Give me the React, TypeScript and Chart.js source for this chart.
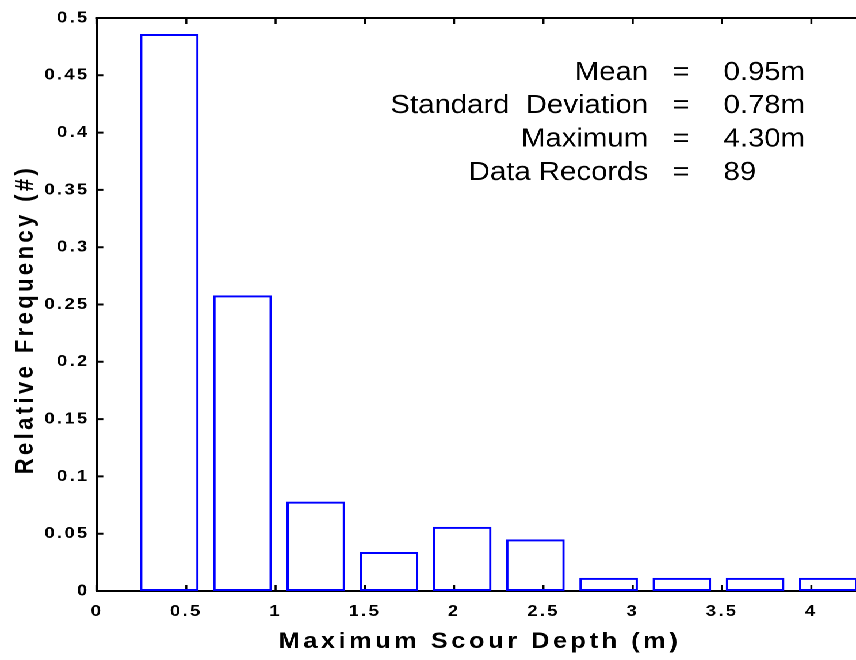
import React, { useEffect, useRef } from 'react';
import { Chart, registerables } from 'chart.js';

Chart.register(...registerables);

// ---- data ----
const binCenters = [0.405, 0.815, 1.225, 1.635, 2.045, 2.455, 2.865, 3.275, 3.685, 4.095];
const relFrequency = [0.486, 0.258, 0.078, 0.034, 0.056, 0.045, 0.0115, 0.0115, 0.0115, 0.0115];
const xTickValues = [0, 0.5, 1, 1.5, 2, 2.5, 3, 3.5, 4];
const xTickLabels = ['0', '0.5', '1', '1.5', '2', '2.5', '3', '3.5', '4'];
const yTickValues = [0, 0.05, 0.1, 0.15, 0.2, 0.25, 0.3, 0.35, 0.4, 0.45, 0.5];
const yTickLabels = ['0', '0.05', '0.1', '0.15', '0.2', '0.25', '0.3', '0.35', '0.4', '0.45', '0.5'];
const statLabels = ['Mean', 'Standard  Deviation', 'Maximum', 'Data Records'];
const statValues = ['0.95m', '0.78m', '4.30m', '89'];
const xTitle = 'Maximum Scour Depth (m)';
const yTitle = 'Relative Frequency (#)';

// ---- layout / style ----
const CANVAS_W = 744;
const CANVAS_H = 660;
const STRETCH = 856 / CANVAS_W;
const FONT = '"Liberation Sans", Arial, Helvetica, sans-serif';
const STAT_LABEL_X = 3.086;
const STAT_EQ_X = 3.27;
const STAT_VALUE_X = 3.508;
const STAT_TOP_Y = 0.446;
const STAT_ROW_STEP = 0.0291;

const textPlugin = {
  id: 'textStyle',
  beforeDraw(chart: any) {
    const ctx = chart.ctx;
    for (const id of ['x', 'y']) {
      const s: any = chart.scales[id];
      if (!s || s.__patched) continue;
      s.__patched = true;
      const origLabels = s.drawLabels;
      s.drawLabels = function (...args: any[]) {
        ctx.save();
        ctx.letterSpacing = '2px';
        origLabels.apply(this, args);
        ctx.restore();
      };
      const origTitle = s.drawTitle;
      s.drawTitle = function (...args: any[]) {
        ctx.save();
        ctx.letterSpacing = id === 'y' ? '3.4px' : '3.1px';
        if (id === 'y') ctx.translate(0, 15);
        else ctx.translate(3, 0);
        origTitle.apply(this, args);
        ctx.restore();
      };
    }
  },
};

const framePlugin = {
  id: 'frame',
  beforeDatasetsDraw(chart: any) {
    const { ctx, chartArea: a, scales } = chart;
    const x = scales.x;
    const y = scales.y;
    ctx.save();
    ctx.strokeStyle = '#000';
    ctx.lineWidth = 2;
    ctx.beginPath();
    ctx.moveTo(a.left - 1, a.top);
    ctx.lineTo(a.right, a.top);
    for (const t of y.ticks) {
      const py = y.getPixelForValue(t.value);
      ctx.moveTo(a.left, py);
      ctx.lineTo(a.left + 5.5, py);
    }
    ctx.stroke();
    ctx.lineWidth = 1.75;
    ctx.beginPath();
    for (const t of x.ticks) {
      const px = x.getPixelForValue(t.value);
      ctx.moveTo(px, a.bottom);
      ctx.lineTo(px, a.bottom - 6);
      ctx.moveTo(px, a.top);
      ctx.lineTo(px, a.top + 6);
    }
    ctx.stroke();
    ctx.restore();
  },
};

const statsPlugin = {
  id: 'stats',
  afterDraw(chart: any) {
    const { ctx, scales } = chart;
    const x = scales.x;
    const y = scales.y;
    ctx.save();
    ctx.font = `25.5px ${FONT}`;
    ctx.fillStyle = '#000';
    ctx.textBaseline = 'alphabetic';
    statLabels.forEach((lab, i) => {
      const py = y.getPixelForValue(STAT_TOP_Y - i * STAT_ROW_STEP);
      ctx.textAlign = 'right';
      ctx.fillText(lab, x.getPixelForValue(STAT_LABEL_X), py);
      ctx.textAlign = 'center';
      ctx.fillText('=', x.getPixelForValue(STAT_EQ_X), py);
      ctx.textAlign = 'left';
      ctx.fillText(statValues[i], x.getPixelForValue(STAT_VALUE_X), py);
    });
    ctx.restore();
  },
};

export default function App() {
  const ref = useRef<HTMLCanvasElement>(null);

  useEffect(() => {
    document.body.style.margin = '0';
    document.body.style.overflow = 'hidden';
    Chart.defaults.color = '#000';
    Chart.defaults.font.family = FONT;

    const chart = new Chart(ref.current as HTMLCanvasElement, {
      type: 'bar',
      data: {
        datasets: [
          {
            data: binCenters.map((c, i) => ({ x: c, y: relFrequency[i] })),
            borderColor: '#0000ff',
            backgroundColor: 'rgba(0,0,0,0)',
            borderWidth: 2,
            borderSkipped: false,
            categoryPercentage: 1,
            barPercentage: 0.8,
          } as any,
        ],
      },
      options: {
        animation: false,
        responsive: false,
        devicePixelRatio: 2,
        layout: { padding: { top: 18, left: 0, right: 0, bottom: 0 } },
        plugins: {
          legend: { display: false },
          tooltip: { enabled: false },
        },
        scales: {
          x: {
            type: 'linear',
            min: 0,
            max: 4.25,
            offset: false,
            grid: { display: false, drawTicks: false },
            border: { display: true, color: '#000', width: 2 },
            afterBuildTicks: (s: any) => {
              s.ticks = xTickValues.map((v) => ({ value: v }));
            },
            afterFit: (s: any) => {
              s.height = 69;
            },
            ticks: {
              autoSkip: false,
              maxRotation: 0,
              padding: 11,
              color: '#000',
              font: { family: FONT, size: 16, weight: 'bold' },
              callback: (_v: any, i: number) => xTickLabels[i],
            },
            title: {
              display: true,
              text: xTitle,
              color: '#000',
              font: { family: FONT, size: 22, weight: 'bold' },
              padding: { top: 0, bottom: 5 },
            },
          } as any,
          y: {
            type: 'linear',
            min: 0,
            max: 0.5,
            grid: { display: false, drawTicks: false },
            border: { display: true, color: '#000', width: 1.75 },
            afterBuildTicks: (s: any) => {
              s.ticks = yTickValues.map((v) => ({ value: v }));
            },
            afterFit: (s: any) => {
              s.width = 84.3;
            },
            ticks: {
              padding: 6.5,
              color: '#000',
              font: { family: FONT, size: 16, weight: 'bold' },
              callback: (_v: any, i: number) => yTickLabels[i],
            },
            title: {
              display: true,
              text: yTitle,
              color: '#000',
              font: { family: FONT, size: 22, weight: 'bold' },
              padding: { top: 9, bottom: 0 },
            },
          } as any,
        },
      },
      plugins: [textPlugin, framePlugin, statsPlugin],
    });

    return () => chart.destroy();
  }, []);

  return (
    <div
      style={{
        position: 'absolute',
        left: 0,
        top: 0,
        width: CANVAS_W,
        height: CANVAS_H,
        transform: `scaleX(${STRETCH})`,
        transformOrigin: '0 0',
        background: '#fff',
      }}
    >
      <canvas ref={ref} width={CANVAS_W} height={CANVAS_H} style={{ display: 'block' }} />
    </div>
  );
}
